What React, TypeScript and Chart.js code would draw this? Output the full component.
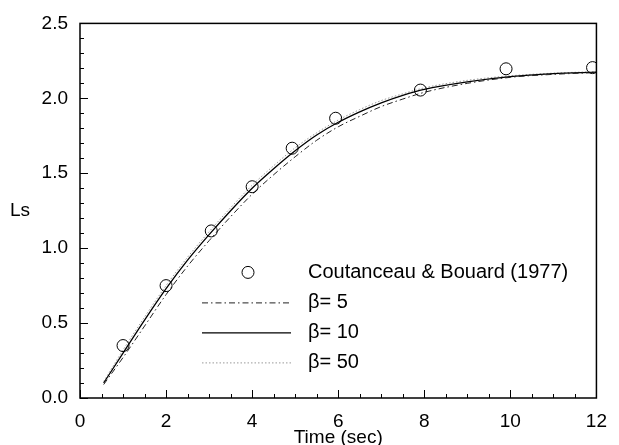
import { useEffect, useRef } from 'react';
import { Chart, registerables } from 'chart.js';
Chart.register(...registerables);

const obsX = [1.0, 2.0, 3.05, 4.0, 4.93, 5.94, 7.91, 9.9, 11.91];
const obsY = [0.35, 0.75, 1.115, 1.41, 1.667, 1.867, 2.055, 2.197, 2.205];
const curveX = [0.55, 1, 1.5, 2, 2.5, 3, 3.5, 4, 4.5, 5, 5.5, 6, 6.5, 7, 7.5, 8, 9, 10, 11, 12];
const beta5 = [0.09, 0.27, 0.48, 0.69, 0.88, 1.05, 1.21, 1.36, 1.49, 1.61, 1.72, 1.81, 1.88, 1.945, 1.995, 2.04, 2.1, 2.14, 2.16, 2.172];
const beta10 = [0.1, 0.3, 0.52, 0.73, 0.92, 1.09, 1.25, 1.4, 1.53, 1.65, 1.755, 1.84, 1.91, 1.97, 2.02, 2.06, 2.11, 2.145, 2.165, 2.175];
const beta50 = [0.11, 0.32, 0.54, 0.75, 0.94, 1.11, 1.27, 1.42, 1.55, 1.67, 1.77, 1.855, 1.925, 1.985, 2.03, 2.07, 2.12, 2.15, 2.168, 2.178];
const legendLabels = ['Coutanceau & Bouard (1977)', '\u03b2= 5', '\u03b2= 10', '\u03b2= 50'];
const xTitle = 'Time (sec)';
const yTitle = 'Ls';

const FONT = '"Liberation Sans", Arial, sans-serif';

const decorPlugin = {
  id: 'decor',
  afterDraw(chart: any) {
    const { ctx, chartArea: a, scales } = chart;
    const x = scales.x;
    const y = scales.y;
    ctx.save();
    ctx.strokeStyle = '#000';
    ctx.lineWidth = 1.5;
    ctx.strokeRect(a.left, a.top, a.right - a.left, a.bottom - a.top);
    ctx.lineWidth = 1;
    ctx.beginPath();
    for (let i = 0; i <= 24; i++) {
      const px = Math.round(x.getPixelForValue(i * 0.5)) + 0.5;
      const len = i % 4 === 0 ? 8 : 4;
      ctx.moveTo(px, a.bottom);
      ctx.lineTo(px, a.bottom - len);
    }
    for (let i = 0; i <= 25; i++) {
      const py = Math.round(y.getPixelForValue(i * 0.1)) + 0.5;
      const len = i % 5 === 0 ? 8 : 4;
      ctx.moveTo(a.left, py);
      ctx.lineTo(a.left + len, py);
    }
    ctx.stroke();

    ctx.fillStyle = '#000';
    ctx.font = '19px ' + FONT;
    ctx.textAlign = 'center';
    ctx.textBaseline = 'middle';
    ctx.fillText(yTitle, 20, y.getPixelForValue(1.25));

    // legend
    const rows = [249, 279, 309, 339];
    const ds = chart.data.datasets;
    const order = [0, 1, 2, 3];
    ctx.textAlign = 'left';
    ctx.font = '20px ' + FONT;
    order.forEach((di, r) => {
      const d = ds[di];
      const ry = a.top + rows[r];
      if (di === 0) {
        ctx.beginPath();
        ctx.setLineDash([]);
        ctx.lineWidth = 1;
        ctx.strokeStyle = '#000';
        ctx.arc(a.left + 168, ry, 6, 0, Math.PI * 2);
        ctx.stroke();
      } else {
        ctx.beginPath();
        ctx.setLineDash(d.borderDash || []);
        ctx.lineWidth = d.borderWidth;
        ctx.strokeStyle = d.borderColor;
        ctx.moveTo(a.left + 122, ry + 0.5);
        ctx.lineTo(a.left + 211, ry + 0.5);
        ctx.stroke();
      }
      ctx.setLineDash([]);
      ctx.fillStyle = '#000';
      ctx.fillText(legendLabels[di], a.left + 228, ry);
    });
    ctx.restore();
  },
};

export default function App() {
  const ref = useRef<HTMLCanvasElement>(null);
  useEffect(() => {
    if (!ref.current) return;
    const chart = new Chart(ref.current, {
      type: 'scatter',
      data: {
        datasets: [
          {
            label: legendLabels[0],
            data: obsX.map((v, i) => ({ x: v, y: obsY[i] })),
            showLine: false,
            pointStyle: 'circle',
            pointRadius: 6,
            pointBorderColor: '#000',
            pointBackgroundColor: 'rgba(0,0,0,0)',
            pointBorderWidth: 1,
            order: 0,
          },
          {
            label: legendLabels[1],
            data: curveX.map((v, i) => ({ x: v, y: beta5[i] })),
            showLine: true,
            pointRadius: 0,
            borderColor: '#222',
            borderWidth: 1,
            borderDash: [6, 3, 1.5, 3],
            cubicInterpolationMode: 'monotone',
            order: 1,
          },
          {
            label: legendLabels[2],
            data: curveX.map((v, i) => ({ x: v, y: beta10[i] })),
            showLine: true,
            pointRadius: 0,
            borderColor: '#000',
            borderWidth: 1.3,
            cubicInterpolationMode: 'monotone',
            order: 2,
          },
          {
            label: legendLabels[3],
            data: curveX.map((v, i) => ({ x: v, y: beta50[i] })),
            showLine: true,
            pointRadius: 0,
            borderColor: '#999',
            borderWidth: 1,
            borderDash: [1.5, 2],
            cubicInterpolationMode: 'monotone',
            order: 3,
          },
        ],
      } as any,
      options: {
        animation: false,
        responsive: true,
        maintainAspectRatio: false,
        layout: { padding: { left: 0, right: 14, top: 16, bottom: 0 } },
        plugins: { legend: { display: false }, tooltip: { enabled: false } },
        scales: {
          x: {
            type: 'linear',
            min: 0,
            max: 12,
            grid: { display: false, drawTicks: false },
            border: { display: false },
            ticks: { stepSize: 2, color: '#000', padding: 12, font: { family: FONT, size: 19 }, maxRotation: 0 },
            title: { display: true, text: xTitle, color: '#000', font: { family: FONT, size: 19, lineHeight: 1 }, padding: { top: 0, bottom: -2 } },
            afterFit: (s: any) => { s.height = 47; },
          },
          y: {
            type: 'linear',
            min: 0,
            max: 2.5,
            grid: { display: false, drawTicks: false },
            border: { display: false },
            ticks: { stepSize: 0.5, color: '#000', padding: 12, font: { family: FONT, size: 19 }, callback: (v: any) => Number(v).toFixed(1) },
            afterFit: (s: any) => { s.width = 80; },
          },
        },
      } as any,
      plugins: [decorPlugin],
    });
    return () => chart.destroy();
  }, []);
  return (
    <div style={{ position: 'fixed', left: 0, top: 0, width: 619, height: 445, background: '#fff' }}>
      <canvas ref={ref} />
    </div>
  );
}
